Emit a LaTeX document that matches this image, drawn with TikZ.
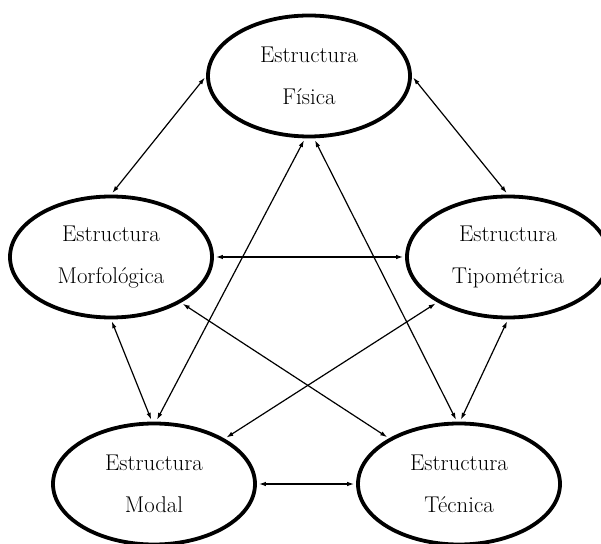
\documentclass[tikz,border=0pt]{standalone}
\usetikzlibrary{shapes.geometric,arrows.meta}
\tikzset{
  estr/.style={ellipse, draw, line width=3.8pt, minimum width=202pt, minimum height=121pt,
    inner sep=0pt, align=center, font=\fontsize{22.8}{42}\selectfont},
  rel/.style={{Latex[length=7pt,width=4.5pt]}-{Latex[length=7pt,width=4.5pt]},
    line width=1.2pt, shorten <=2pt, shorten >=2pt},
}
\begin{document}
\begin{tikzpicture}[x=1pt,y=1pt]
  \useasboundingbox (0,0) rectangle (601,543);

  \node[estr] (fis) at (309,467) {Estructura\\Física};
  \node[estr] (mor) at (111,286) {Estructura\\Morfológica};
  \node[estr] (tip) at (508,286) {Estructura\\Tipométrica};
  \node[estr] (mod) at (154,59)  {Estructura\\Modal};
  \node[estr] (tec) at (459,59)  {Estructura\\Técnica};

  % outer ring
  \draw[rel] (fis.west) -- (mor.north);
  \draw[rel] (fis.east) -- (tip.north);
  \draw[rel] (mor.east) -- (tip.west);
  \draw[rel] (mor.south) -- ([xshift=-2pt]mod.north);
  \draw[rel] (tip.south) -- ([xshift=1pt]tec.north);
  \draw[rel] (mod.east) -- (tec.west);

  % inner star
  \draw[rel] ([xshift=-4pt]fis.south) -- ([xshift=2pt]mod.north);
  \draw[rel] ([xshift=5pt]fis.south) -- ([xshift=-2pt]tec.north);
  \draw[rel] (mor) -- (tec);
  \draw[rel] (tip) -- (mod);
\end{tikzpicture}
\end{document}
